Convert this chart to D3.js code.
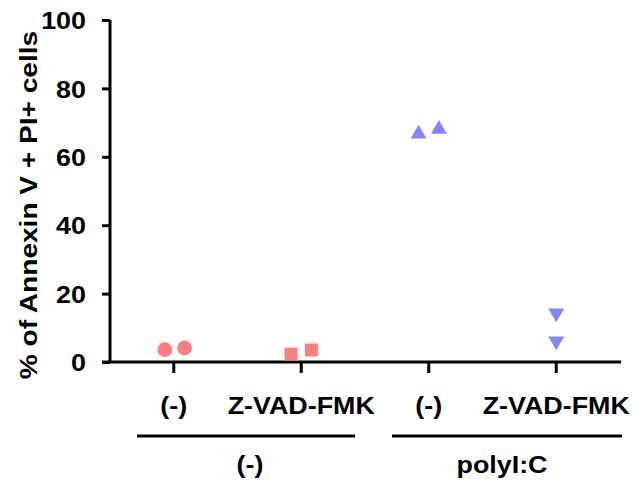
<!DOCTYPE html>
<html>
<head>
<meta charset="utf-8">
<script src="https://cdn.jsdelivr.net/npm/d3@7"></script>
<style>
  body { margin: 0; background: #fff; }
  text { font-family: "Liberation Sans", Arial, sans-serif; font-weight: bold; fill: #000; }
</style>
</head>
<body>
<div id="chart"></div>
<script>
// categories along x and the two treatment groups
var categories = ["(-)", "Z-VAD-FMK", "(-) ", "Z-VAD-FMK "];
var groups = ["(-)", "polyI:C"];
var yTicks = [0, 20, 40, 60, 80, 100];

// replicate values per category
var ctrlNone = [3.6, 4.1];
var ctrlZvad = [2.3, 3.5];
var picNone = [66.7, 68.1];
var picZvad = [14.3, 6.1];

// small horizontal offset of each replicate (in category widths)
var jitter = [[-0.07, 0.085], [-0.08, 0.08], [-0.08, 0.08], [0, 0]];

var series = [
  { cat: 0, vals: ctrlNone, shape: d3.symbolCircle, color: "#fb7f7f" },
  { cat: 1, vals: ctrlZvad, shape: d3.symbolSquare, color: "#fb7f7f" },
  { cat: 2, vals: picNone, shape: d3.symbolTriangle, color: "#8585fb" },
  { cat: 3, vals: picZvad, shape: d3.symbolTriangle, color: "#8585fb", flip: true }
];

var w = 635, h = 484;
var svg = d3.select("#chart").append("svg").attr("width", w).attr("height", h);

var y = d3.scaleLinear().domain([0, 100]).range([362, 20]);
var x = d3.scaleBand().domain(d3.range(categories.length)).range([110, 620]).padding(0);

// y axis
var yAxis = svg.append("g").attr("transform", "translate(110,0)")
  .call(d3.axisLeft(y).tickValues(yTicks).tickSize(8));
yAxis.select(".domain").attr("stroke-width", 3).attr("d", "M0," + y(100) + "V" + y(0));
yAxis.selectAll(".tick line").attr("stroke-width", 3);
yAxis.selectAll(".tick text").style("font-size", "24px").attr("dy", "0.36em")
  .attr("x", 0).attr("transform", "translate(-24,0) scale(1.12,1)")
  .style("font-family", "'Liberation Sans', Arial, sans-serif").style("font-weight", "bold");

// x axis
var xAxis = svg.append("g").attr("transform", "translate(0,362)")
  .call(d3.axisBottom(x).tickSize(11).tickFormat(function (d) { return categories[d]; }).tickPadding(24));
xAxis.select(".domain").attr("stroke-width", 3).attr("d", "M102,0H621");
xAxis.selectAll(".tick line").attr("stroke-width", 3).attr("y1", 0);
xAxis.selectAll(".tick text").style("font-size", "24px").attr("dy", "0.71em")
  .attr("transform", "scale(1.12,1)")
  .style("font-family", "'Liberation Sans', Arial, sans-serif").style("font-weight", "bold");

// y label
svg.append("text")
  .attr("transform", "translate(37," + ((y(0) + y(100)) / 2 + 14) + ") rotate(-90) scale(1.17,1)")
  .attr("text-anchor", "middle")
  .style("font-size", "24px")
  .text("% of Annexin V + PI+ cells");

// group bars and labels
var gx = d3.scaleBand().domain(groups).range([110, 620]);
groups.forEach(function (g, i) {
  var x0 = gx(g), x1 = x0 + gx.bandwidth();
  svg.append("line").attr("x1", i === 0 ? 137 : x0 + 27).attr("x2", i === 0 ? x1 - 10 : x1 + 2)
    .attr("y1", 436).attr("y2", 436).attr("stroke", "#000").attr("stroke-width", 3);
  svg.append("text").attr("transform", "translate(" + (i === 0 ? 250 : 502) + ",473) scale(1.12,1)")
    .attr("text-anchor", "middle").style("font-size", "24px").text(g);
});

// points
series.forEach(function (s) {
  var sym = d3.symbol().type(s.shape).size(s.shape === d3.symbolTriangle ? 110 : 170);
  s.vals.forEach(function (v, j) {
    var cx = x(s.cat) + x.bandwidth() / 2 + jitter[s.cat][j] * x.bandwidth();
    svg.append("path")
      .attr("d", sym())
      .attr("fill", s.color)
      .attr("transform", "translate(" + cx + "," + y(v) + ")" + (s.flip ? " rotate(180)" : ""));
  });
});
</script>
</body>
</html>
